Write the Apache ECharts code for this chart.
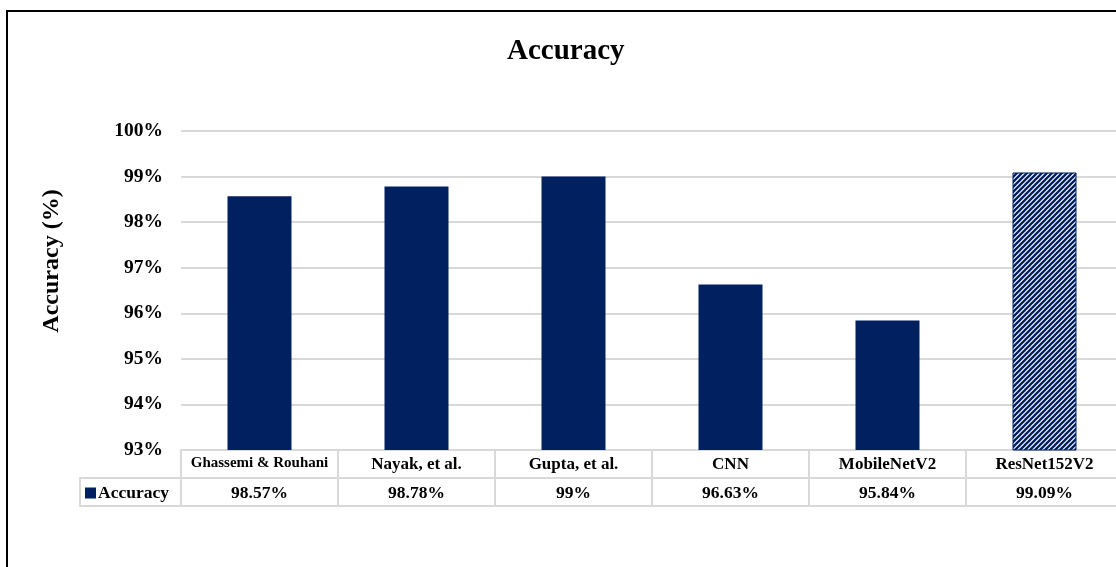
<!DOCTYPE html>
<html>
<head>
<meta charset="utf-8">
<script src="https://cdn.jsdelivr.net/npm/echarts@6/dist/echarts.min.js"></script>
<style>
  html, body { margin: 0; padding: 0; background: #fff; }
  #chart { width: 1116px; height: 567px; }
</style>
</head>
<body>
<div id="chart"></div>
<script>
// data
const categories = ['Ghassemi & Rouhani', 'Nayak, et al.', 'Gupta, et al.', 'CNN', 'MobileNetV2', 'ResNet152V2'];
const accuracy = [98.57, 98.78, 99, 96.63, 95.84, 99.09];
const seriesName = 'Accuracy';
const yTicks = { min: 93, max: 100, interval: 1 };
const hatchedIndex = 5;

const FONT = '"Times New Roman", "Liberation Serif", serif';
const NAVY = '#002060';
const LINE = '#d9d9d9';

// diagonal stripe tile for the last bar
const makeHatch = () => {
    const s = 5;
    const c = document.createElement('canvas');
    c.width = s;
    c.height = s;
    const ctx = c.getContext('2d');
    ctx.fillStyle = '#fff';
    ctx.fillRect(0, 0, s, s);
    ctx.strokeStyle = NAVY;
    ctx.lineWidth = 2.3;
    ctx.beginPath();
    ctx.moveTo(-s, s); ctx.lineTo(s, -s);
    ctx.moveTo(0, s * 2); ctx.lineTo(s * 2, 0);
    ctx.moveTo(-1, s + 1); ctx.lineTo(s + 1, -1);
    ctx.stroke();
    return c;
};

const valueLabels = accuracy.map(v => v + '%');
const barData = accuracy.map((v, i) => i === hatchedIndex
    ? { value: v, itemStyle: { color: { image: makeHatch(), repeat: 'repeat' }, borderColor: NAVY, borderWidth: 1 } }
    : v);

const chart = echarts.init(document.getElementById('chart'));

const option = {
    animation: false,
    backgroundColor: '#fff',
    title: {
        text: 'Accuracy',
        left: 507,
        top: 37,
        padding: 0,
        textStyle: { fontFamily: FONT, fontSize: 29, fontWeight: 'bold', color: '#000' }
    },
    legend: {
        data: [seriesName],
        left: 85,
        top: 484,
        padding: 0,
        itemWidth: 11,
        itemHeight: 11,
        icon: 'rect',
        itemGap: 2,
        textStyle: { fontFamily: FONT, fontSize: 17.5, fontWeight: 'bold', color: '#000', padding: [0, 0, 0, -3] }
    },
    grid: { left: 181, top: 131, width: 942, height: 319, outerBoundsMode: 'none' },
    xAxis: [
        {
            type: 'category',
            data: categories,
            position: 'bottom',
            axisLine: { lineStyle: { color: LINE, width: 2 } },
            axisTick: { show: true, interval: 0, length: 56, lineStyle: { color: LINE, width: 2 } },
            axisLabel: {
                interval: 0,
                margin: 6,
                fontFamily: FONT,
                fontSize: 17,
                fontWeight: 'bold',
                color: '#000',
                formatter: (v, i) => i === 0 ? '{s|' + v + '}' : v,
                rich: { s: { fontFamily: FONT, fontSize: 15, fontWeight: 'bold', color: '#000' } }
            }
        },
        {
            type: 'category',
            data: valueLabels,
            position: 'bottom',
            offset: 28,
            axisLine: { lineStyle: { color: LINE, width: 2 } },
            axisTick: { show: false },
            axisLabel: { interval: 0, margin: 6, fontFamily: FONT, fontSize: 17.5, fontWeight: 'bold', color: '#000' }
        },
        {
            type: 'category',
            data: categories,
            position: 'bottom',
            offset: 56,
            axisLine: { lineStyle: { color: LINE, width: 2 } },
            axisTick: { show: false },
            axisLabel: { show: false }
        }
    ],
    yAxis: {
        type: 'value',
        min: yTicks.min,
        max: yTicks.max,
        interval: yTicks.interval,
        axisLine: { show: false },
        axisTick: { show: false },
        axisLabel: {
            margin: 18,
            formatter: '{value}%',
            fontFamily: FONT,
            fontSize: 19.5,
            fontWeight: 'bold',
            color: '#000'
        },
        splitLine: { lineStyle: { color: LINE, width: 2 } }
    },
    graphic: [
        // outer chart frame
        { type: 'rect', shape: { x: 7, y: 11, width: 1140, height: 600 }, style: { fill: 'none', stroke: '#000', lineWidth: 2 }, silent: true },
        // legend key cell of the data table
        { type: 'rect', shape: { x: 80, y: 478, width: 101, height: 28 }, style: { fill: 'none', stroke: LINE, lineWidth: 2 }, silent: true },
        // y axis title
        {
            type: 'text',
            x: 52,
            y: 261,
            rotation: Math.PI / 2,
            style: { text: 'Accuracy (%)', font: 'bold 24px ' + FONT, fill: '#000', align: 'center', verticalAlign: 'middle' }
        }
    ],
    series: [
        {
            name: seriesName,
            type: 'bar',
            xAxisIndex: 0,
            barWidth: 64,
            itemStyle: { color: NAVY },
            data: barData
        }
    ]
};

chart.setOption(option);
</script>
</body>
</html>
